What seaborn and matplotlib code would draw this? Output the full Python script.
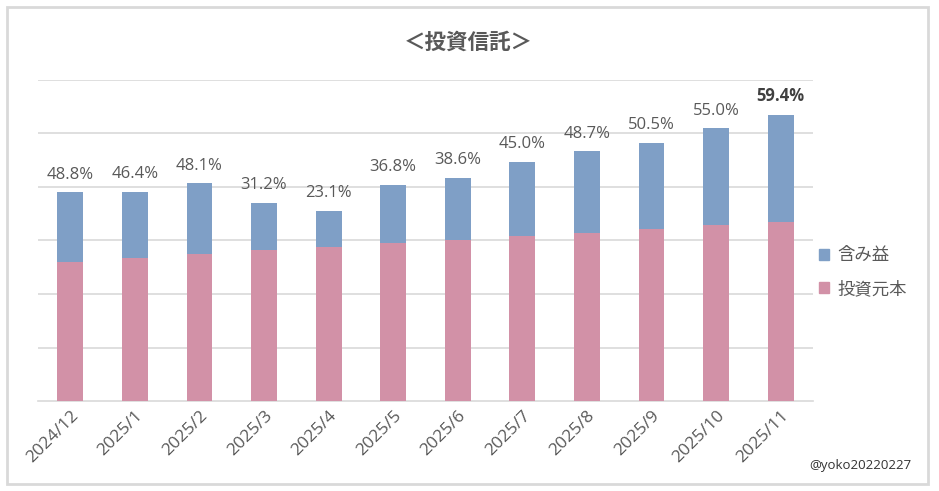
import pandas as pd
import seaborn as sns
import matplotlib.pyplot as plt
from matplotlib.patches import Patch, Rectangle

months = ['2024/12', '2025/1', '2025/2', '2025/3', '2025/4', '2025/5',
          '2025/6', '2025/7', '2025/8', '2025/9', '2025/10', '2025/11']
principal = [260, 267, 275, 282, 288, 295, 301, 308, 314, 321, 329, 335]
gain = [130, 124, 132, 88, 67, 109, 116, 139, 153, 162, 181, 200]
gain_pct = ['48.8%', '46.4%', '48.1%', '31.2%', '23.1%', '36.8%',
            '38.6%', '45.0%', '48.7%', '50.5%', '55.0%', '59.4%']

df = pd.DataFrame({'month': months, 'principal': principal, 'gain': gain})
df['total'] = df['principal'] + df['gain']

sns.set_style('white')
plt.rcParams['font.family'] = ['Noto Sans CJK JP', 'DejaVu Sans']

pink = '#D291A7'
blue = '#7F9FC6'
grey = '#595959'

fig = plt.figure(figsize=(9.39, 4.91), dpi=100)
ax = fig.add_axes([38 / 939, 1 - 401 / 491, (813 - 38) / 939, (401 - 80) / 491])

sns.barplot(data=df, x='month', y='total', color=blue, width=0.4,
            saturation=1, linewidth=0, ax=ax, zorder=3)
sns.barplot(data=df, x='month', y='principal', color=pink, width=0.4,
            saturation=1, linewidth=0, ax=ax, zorder=3)

ax.set_ylim(0, 600)
ax.set_xlim(-0.5, len(months) - 0.5)
ax.set_yticks(range(100, 601, 100))
ax.set_yticklabels([])
ax.tick_params(axis='y', length=0)
ax.yaxis.grid(True, color='#D9D9D9', linewidth=1.2, zorder=0)
ax.set_axisbelow(True)
ax.set_xlabel('')
ax.set_ylabel('')

for s in ['top', 'right', 'left']:
    ax.spines[s].set_visible(False)
ax.spines['bottom'].set_color('#D9D9D9')
ax.spines['bottom'].set_linewidth(1.2)

# category boundary ticks
ax.set_xticks([i - 0.5 for i in range(len(months) + 1)], minor=True)
ax.tick_params(axis='x', which='minor', length=5, color='#D9D9D9', width=1.2)
ax.tick_params(axis='x', which='major', length=0, pad=5)
ax.set_xticks(range(len(months)))
ax.set_xticklabels(months, rotation=45, ha='right', rotation_mode='anchor',
                   fontsize=12.5, color=grey, family=['Open Sans', 'DejaVu Sans'])

for i, (t, p) in enumerate(zip(df['total'], gain_pct)):
    last = i == len(months) - 1
    ax.text(i, t + 18, p, ha='center', va='bottom', fontsize=12,
            color='#404040' if last else grey,
            fontweight='bold' if last else 'normal',
            family=['Open Sans', 'DejaVu Sans'])

fig.text(468 / 939, 1 - 42 / 491, '＜投資信託＞', ha='center', va='center',
         fontsize=15.5, fontweight='bold', color=grey)

handles = [Patch(color=blue, label='含み益'), Patch(color=pink, label='投資元本')]
fig.legend(handles=handles, loc='center left', bbox_to_anchor=(803 / 939, 1 - 272 / 491),
           frameon=False, fontsize=12.5, labelcolor=grey, handlelength=0.6,
           handleheight=0.6, handletextpad=0.5, labelspacing=0.9)

fig.text(912 / 939, 1 - 465 / 491, '@yoko20220227', ha='right', va='center',
         fontsize=9.5, color='#333333', family=['Open Sans', 'DejaVu Sans'])

fig.patches.append(Rectangle((7 / 939, 7 / 491), (928 - 7) / 939, (484 - 7) / 491,
                             transform=fig.transFigure, fill=False,
                             edgecolor='#D9D9D9', linewidth=2))

fig.savefig('out.png', dpi=100)
